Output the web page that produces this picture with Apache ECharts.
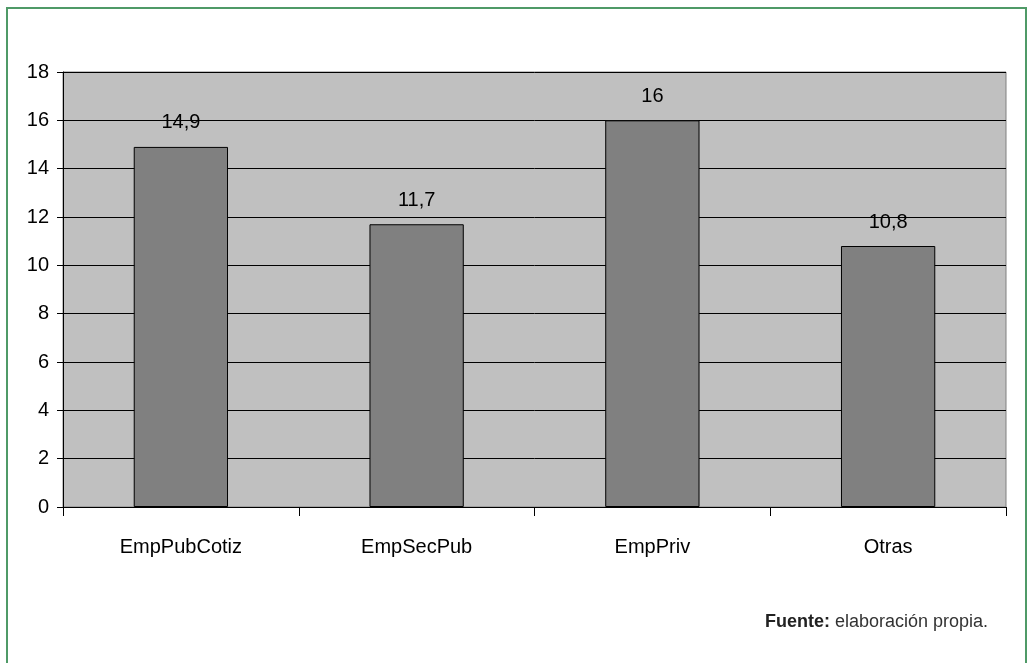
<!DOCTYPE html>
<html>
<head>
<meta charset="utf-8">
<script src="https://cdn.jsdelivr.net/npm/echarts@6/dist/echarts.min.js"></script>
<style>
html,body{margin:0;padding:0;background:#fff;}
#chart{width:1028px;height:663px;}
</style>
</head>
<body>
<div id="chart"></div>
<script>
const categories = ['EmpPubCotiz', 'EmpSecPub', 'EmpPriv', 'Otras'];
const values = [14.9, 11.7, 16, 10.8];
const yTicks = [0, 2, 4, 6, 8, 10, 12, 14, 16, 18];
const sourceBold = 'Fuente:';
const sourceText = ' elaboración propia.';

const narrow = '"Liberation Sans Narrow", "Arial Narrow", "Liberation Sans", Arial, sans-serif';
const chart = echarts.init(document.getElementById('chart'), null, {renderer: 'canvas'});
chart.setOption({
  animation: false,
  backgroundColor: '#ffffff',
  grid: {
    left: 63, right: 22, top: 72, bottom: 156,
    show: true, backgroundColor: '#c0c0c0', borderColor: '#808080', borderWidth: 1
  },
  xAxis: {
    type: 'category',
    data: categories,
    axisLine: {show: true, lineStyle: {color: '#000', width: 1}},
    axisTick: {show: true, length: 9, lineStyle: {color: '#000'}},
    axisLabel: {color: '#000', fontFamily: narrow, fontSize: 20, margin: 30}
  },
  yAxis: {
    type: 'value',
    min: yTicks[0], max: yTicks[yTicks.length - 1], interval: 2,
    axisLine: {show: true, lineStyle: {color: '#000', width: 1}},
    axisTick: {show: true, length: 6, lineStyle: {color: '#000'}},
    axisLabel: {color: '#000', fontFamily: narrow, fontSize: 20, margin: 14},
    splitLine: {show: true, lineStyle: {color: '#000', width: 1}}
  },
  series: [{
    type: 'bar',
    data: values,
    barWidth: '40%',
    itemStyle: {color: '#808080', borderColor: '#000', borderWidth: 1},
    label: {
      show: true, position: 'top', distance: 14,
      color: '#000', fontFamily: narrow, fontSize: 20,
      formatter: p => String(p.value).replace('.', ',')
    }
  }],
  graphic: [
    {
      type: 'polyline',
      shape: {points: [[7, 663], [7, 8], [1026, 8], [1026, 663]]},
      style: {stroke: '#4f9a67', lineWidth: 2, fill: null}
    },
    {
      type: 'text',
      right: 40, top: 613,
      style: {
        text: '{b|' + sourceBold + '}{r|' + sourceText + '}',
        rich: {
          b: {fontFamily: 'Liberation Sans, Arial, sans-serif', fontWeight: 'bold', fontSize: 18, fill: '#222'},
          r: {fontFamily: 'Liberation Sans, Arial, sans-serif', fontSize: 18, fill: '#333'}
        }
      }
    }
  ]
});
</script>
</body>
</html>
